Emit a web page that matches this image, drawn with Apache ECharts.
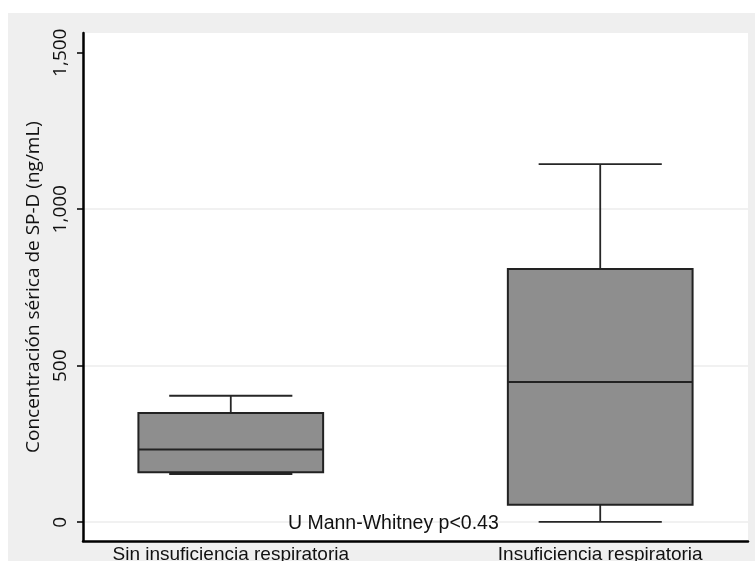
<!DOCTYPE html>
<html>
<head>
<meta charset="utf-8">
<script src="https://cdn.jsdelivr.net/npm/echarts@6/dist/echarts.min.js"></script>
<style>
  html, body { margin: 0; padding: 0; background: #ffffff; width: 755px; height: 561px; overflow: hidden; }
  #chart { position: absolute; left: 8px; top: 13px; width: 747px; height: 548px; }
</style>
</head>
<body>
<div id="chart"></div>
<script>
// ---- Data ----
const categories = ['Sin insuficiencia respiratoria', 'Insuficiencia respiratoria'];
const whiskerLow  = [154, 1];
const quartile1   = [160, 56];
const medianVals  = [232, 448];
const quartile3   = [349, 809];
const whiskerHigh = [404, 1144];
const yTickValues = [0, 500, 1000, 1500];
const annotationText = 'U Mann-Whitney p<0.43';
const yAxisTitle = 'Concentración sérica de SP-D (ng/mL)';

// ---- Build series data from arrays ----
const positions = categories.map((c, i) => i + 1);
const boxData = categories.map((c, i) => [
  positions[i], whiskerLow[i], quartile1[i], medianVals[i], quartile3[i], whiskerHigh[i]
]);

const BOX_W = 0.5;
const CAP_W = 1 / 3;
const lineColor = '#262626';

const chart = echarts.init(document.getElementById('chart'), null, { renderer: 'canvas' });

const option = {
  backgroundColor: '#efefef',
  animation: false,
  grid: {
    left: 75, right: 7, top: 20, bottom: 20,
    show: true, backgroundColor: '#ffffff', borderWidth: 0,
    containLabel: false,
    outerBoundsMode: 'none'
  },
  xAxis: {
    type: 'value',
    min: 0.6, max: 2.4,
    axisLine: { show: true, onZero: false, lineStyle: { color: '#000', width: 2.5 } },
    axisTick: { show: false },
    splitLine: { show: false },
    axisLabel: {
      customValues: positions,
      formatter: v => categories[Math.round(v) - 1] || '',
      fontFamily: '"Liberation Sans", Arial, Helvetica, sans-serif',
      fontSize: 19, color: '#111', margin: 4
    }
  },
  yAxis: {
    type: 'value',
    min: -60, max: 1563,
    name: yAxisTitle,
    nameLocation: 'middle',
    nameGap: 36,
    nameTextStyle: { fontFamily: '"Open Sans", sans-serif', fontSize: 19, color: '#111' },
    axisLine: { show: true, onZero: false, lineStyle: { color: '#000', width: 2.5 } },
    axisTick: { show: true, customValues: yTickValues, length: 6, lineStyle: { color: '#000', width: 1.5 } },
    axisLabel: {
      customValues: yTickValues,
      rotate: 90,
      margin: 13,
      formatter: v => Number(v).toLocaleString('en-US'),
      fontFamily: '"Open Sans", sans-serif', fontSize: 19, color: '#111'
    },
    splitLine: { show: true, showMaxLine: false, lineStyle: { color: '#ececec', width: 1.5 } }
  },
  series: [
    {
      type: 'custom',
      name: 'box',
      data: boxData,
      encode: { x: 0, y: [1, 2, 3, 4, 5] },
      renderItem: function (params, api) {
        const x = api.value(0);
        const pLo = api.coord([x, api.value(1)]);
        const pQ1 = api.coord([x, api.value(2)]);
        const pMed = api.coord([x, api.value(3)]);
        const pQ3 = api.coord([x, api.value(4)]);
        const pHi = api.coord([x, api.value(5)]);
        const half = api.size([BOX_W, 0])[0] / 2;
        const capHalf = api.size([CAP_W, 0])[0] / 2;
        const ls = { stroke: lineColor, lineWidth: 1.8 };
        return {
          type: 'group',
          children: [
            { type: 'line', shape: { x1: pHi[0], y1: pHi[1], x2: pQ3[0], y2: pQ3[1] }, style: ls },
            { type: 'line', shape: { x1: pHi[0] - capHalf, y1: pHi[1], x2: pHi[0] + capHalf, y2: pHi[1] }, style: ls },
            { type: 'line', shape: { x1: pLo[0], y1: pLo[1], x2: pQ1[0], y2: pQ1[1] }, style: ls },
            { type: 'line', shape: { x1: pLo[0] - capHalf, y1: pLo[1], x2: pLo[0] + capHalf, y2: pLo[1] }, style: ls },
            { type: 'rect', shape: { x: pQ3[0] - half, y: pQ3[1], width: half * 2, height: pQ1[1] - pQ3[1] },
              style: { fill: '#8e8e8e', stroke: '#222222', lineWidth: 2 } },
            { type: 'line', shape: { x1: pMed[0] - half, y1: pMed[1], x2: pMed[0] + half, y2: pMed[1] },
              style: { stroke: '#222222', lineWidth: 2 } }
          ]
        };
      }
    },
    {
      type: 'custom',
      name: 'annotation',
      data: [[1.44, 0]],
      encode: { x: 0, y: 1 },
      renderItem: function (params, api) {
        const p = api.coord([api.value(0), api.value(1)]);
        return {
          type: 'text',
          x: p[0], y: p[1] + 1,
          style: {
            text: annotationText,
            fill: '#111',
            font: '19.5px "Liberation Sans", Arial, Helvetica, sans-serif',
            textAlign: 'center', textVerticalAlign: 'middle'
          }
        };
      }
    }
  ]
};
chart.setOption(option);
</script>
</body>
</html>
